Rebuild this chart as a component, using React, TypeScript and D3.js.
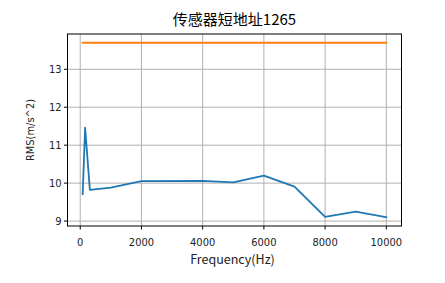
import React from "react";
import * as d3 from "d3";

const freqs = [80, 160, 315, 1000, 2000, 4000, 5000, 6000, 7000, 8000, 9000, 10000];
const rms = [9.71, 11.46, 9.82, 9.88, 10.05, 10.06, 10.02, 10.2, 9.91, 9.11, 9.25, 9.1];
const limitX = [80, 10000];
const limitY = [13.7, 13.7];
const xTicks = [0, 2000, 4000, 6000, 8000, 10000];
const yTicks = [9, 10, 11, 12, 13];
const title = "传感器短地址1265";
const xLabel = "Frequency(Hz)";
const yLabel = "RMS(m/s^2)";

export default function App() {
  const W = 445, H = 283;
  const L = 67.5, R = 401.5, T = 34, B = 226;
  const allY = [...rms, ...limitY];
  const xmin = Math.min(...freqs), xmax = Math.max(...freqs);
  const ymin = d3.min(allY)!, ymax = d3.max(allY)!;
  const xp = (xmax - xmin) * 0.05, yp = (ymax - ymin) * 0.05;
  const x = d3.scaleLinear().domain([xmin - xp, xmax + xp]).range([L, R]);
  const y = d3.scaleLinear().domain([ymin - yp, ymax + yp]).range([B, T]);
  const line = d3.line<[number, number]>().x(d => x(d[0])).y(d => y(d[1]));
  const blue = line(freqs.map((f, i) => [f, rms[i]] as [number, number]))!;
  const orange = line(limitX.map((f, i) => [f, limitY[i]] as [number, number]))!;
  const font = "'Noto Sans CJK SC', sans-serif";
  const tickFont = "'DejaVu Sans Condensed', 'DejaVu Sans', sans-serif";
  return (
    <svg width={W} height={H} style={{ position: "absolute", left: 0, top: 0 }}>
      <rect width={W} height={H} fill="#fff" />
      {xTicks.map(t => (
        <line key={"gx" + t} x1={x(t)} x2={x(t)} y1={T} y2={B} stroke="#b0b0b0" strokeWidth={1} />
      ))}
      {yTicks.map(t => (
        <line key={"gy" + t} x1={L} x2={R} y1={y(t)} y2={y(t)} stroke="#b0b0b0" strokeWidth={1} />
      ))}
      <path d={blue} fill="none" stroke="#1f77b4" strokeWidth={1.8} strokeLinejoin="round" strokeLinecap="square" />
      <path d={orange} fill="none" stroke="#ff7f0e" strokeWidth={1.8} strokeLinecap="square" />
      <rect x={L} y={T} width={R - L} height={B - T} fill="none" stroke="#000" strokeWidth={1} />
      {xTicks.map(t => (
        <g key={"tx" + t}>
          <line x1={x(t)} x2={x(t)} y1={B} y2={B + 3.5} stroke="#000" strokeWidth={1} />
          <text x={x(t)} y={246} textAnchor="middle" fontFamily={tickFont} fontSize={11} fill="#222">{t}</text>
        </g>
      ))}
      {yTicks.map(t => (
        <g key={"ty" + t}>
          <line x1={L - 3.5} x2={L} y1={y(t)} y2={y(t)} stroke="#000" strokeWidth={1} />
          <text x={L - 6} y={y(t)} dy="0.36em" textAnchor="end" fontFamily={tickFont} fontSize={11} fill="#222">{t}</text>
        </g>
      ))}
      <text x={(L + R) / 2 - 2} y={264} textAnchor="middle" fontFamily={font} fontSize={12.5} fill="#222">{xLabel}</text>
      <text transform={`translate(34,${(T + B) / 2}) rotate(-90)`} textAnchor="middle" fontFamily={tickFont} fontSize={11} fill="#222">{yLabel}</text>
      <text x={(L + R) / 2} y={25} textAnchor="middle" fontFamily={font} fontSize={15} fill="#000">{title}</text>
    </svg>
  );
}
